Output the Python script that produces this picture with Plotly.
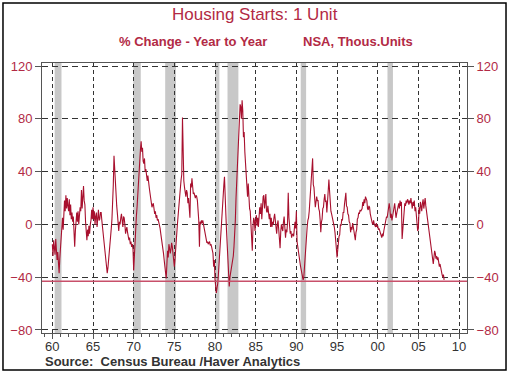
import pandas as pd
import plotly.graph_objects as go

# ---- data: % change year to year, monthly, Jan 1960 .. Mar 2008 ----
yoy_1960s = [
    -15, -24, -12, -19, -23, -11, -17, -27, -21, -30, -37, -26,
    -18, -8, -3, 5, -4, 12, 18, 10, 22, 12, 20, 14,
    10, 19, 7, 15, 4, 9, 2, 6, -8, -17, -5, 2,
    9, 2, 10, 0, 7, 13, 10, 26, 12, 22, 29, 18,
    15, 2, -3, -12, -4, -9, -1, -7, 0, 3, 11, 4,
    13, 4, 10, 0, 6, 9, -2, 5, 11, 3, 4, 9,
    9, 3, -2, -5, -9, -17, -22, -27, -30, -37, -33, -28,
    -20, -15, -8, -3, 4, 13, 30, 52, 40, 28, 20, 14,
    8, 3, -5, 2, 0, 5, 8, 3, -2, 6, 5, 0,
    -7, -4, -2, -6, -9, -12, -10, -15, -13, -17, -15, -19,
]
yoy_1970s = [
    -35, -22, -10, 0, 6, 13, 20, 30, 38, 48, 57, 63,
    55, 58, 48, 46, 50, 40, 42, 36, 33, 37, 30, 28,
    24, 21, 18, 13, 15, 16, 12, 8, 10, 5, 7, 3,
    4, 2, 0, -3, -7, -10, -15, -18, -22, -27, -33, -38,
    -41, -30, -20, -25, -15, -18, -22, -19, -14, -17, -24, -28,
    -32, -26, -21, -12, -4, 3, 11, 18, 24, 28, 34, 38,
    81, 45, 33, 28, 22, 21, 26, 24, 16, 20, 12, 5,
    31, 28, 35, 30, 23, 24, 22, 20, 22, 21, 18, 10,
    3, -17, 2, 0, 3, 1, 3, 0, -3, -7, -9, -12,
    -14, -13, -15, -14, -13, -16, -15, -17, -19, -22, -32, -27,
]
yoy_1980s = [
    -42, -47, -52, -48, -45, -38, -29, -18, -7, 2, 10, 16,
    22, 30, 36, 26, 8, -5, -19, -28, -34, -47, -40, -37,
    -35, -32, -29, -24, -17, -8, 3, 20, 33, 50, 64, 78,
    82, 91, 89, 80, 94, 86, 66, 70, 55, 48, 38, 33,
    21, 31, 18, 12, 10, 0, -10, -20, -2, 5, 3, -5,
    3, 7, -1, 5, -2, 9, 13, 8, 16, 4, 18, 21,
    22, 12, 17, 23, 10, 9, 14, 7, 4, 8, -2, 5,
    -2, 2, 0, 5, 8, 3, -2, -7, 0, 3, -4, -10,
    -18, -5, 0, -3, -5, 2, 6, -2, -10, -4, -6, 2,
    24, 5, 0, -7, -5, -10, -8, -7, -9, -5, 2, -3,
]
yoy_1990s = [
    10, -13, -17, -20, -24, -28, -31, -34, -36, -38, -42, -40,
    -30, -22, -12, -5, -2, 3, 5, 10, 18, 23, 32, 40,
    50, 30, 28, 20, 13, 17, 21, 18, 18, 12, 10, 4,
    -6, 2, 4, 12, 13, 19, 23, 17, 18, 9, 16, 22,
    34, 25, 13, 10, 8, 6, 4, 2, -2, -6, -10, -18,
    -25, -18, -16, -9, -8, 0, -1, 4, 3, 9, 9, 15,
    18, 24, 14, 13, 8, 7, 2, 1, -6, -2, -4, 1,
    -2, -5, -7, -12, -6, -4, 4, 5, 9, 8, 11, 10,
    11, 12, 17, 14, 19, 16, 21, 19, 18, 12, 11, 14,
    13, 8, 5, 3, 1, 0, 3, 0, -1, -2, 1, -2,
]
yoy_2000s = [
    -1, -4, -3, -5, -6, -8, -10, -7, -9, -5, -2, 0,
    3, 6, 5, 10, 13, 16, 12, 5, 8, 3, 6, 10,
    12, 16, 11, 5, 8, 10, 14, 16, 12, 18, 14, 17,
    -11, -2, 8, 12, 16, 14, 18, 16, 19, 18, 15, 18,
    16, 20, 17, 12, 17, 14, 18, 10, 13, 8, 3, -5,
    -3, 13, 8, 17, 14, 10, 16, 19, 12, 18, 20, 14,
    10, 5, 0, -4, -7, -12, -15, -20, -23, -27, -30, -25,
    -20, -22, -26, -24, -27, -25, -29, -32, -30, -34, -36, -38,
    -40, -38, -42,
]
series_start = "1960-01-01"
latest_level = -43

recession_starts = ["1960-04-15", "1969-12-15", "1973-11-15", "1980-01-15",
                    "1981-07-15", "1990-07-15", "2001-03-15"]
recession_ends = ["1961-02-15", "1970-11-15", "1975-03-15", "1980-07-15",
                  "1982-11-15", "1991-03-15", "2001-11-15"]

y_ticks = [-80, -40, 0, 40, 80, 120]

values = yoy_1960s + yoy_1970s + yoy_1980s + yoy_1990s + yoy_2000s
dates = pd.date_range(series_start, periods=len(values), freq="MS")

RED = "#B22A45"
LINE = "#A8102E"
GRID = "#333333"
AXIS = "#555555"
FONT = "Liberation Sans, Arial, sans-serif"

fig = go.Figure()
fig.add_trace(go.Scatter(x=dates, y=values, mode="lines",
                         line=dict(color=LINE, width=1.1), hoverinfo="skip",
                         showlegend=False))
fig.add_trace(go.Scatter(x=[None], y=[None], yaxis="y2", showlegend=False))

for s, e in zip(recession_starts, recession_ends):
    fig.add_shape(type="rect", xref="x", yref="paper", x0=s, x1=e, y0=0, y1=1,
                  fillcolor="#C8C8C8", line_width=0, layer="below")

fig.add_shape(type="line", xref="paper", yref="y", x0=0, x1=1,
              y0=latest_level, y1=latest_level,
              line=dict(color="#C8506A", width=1.5))

# outer frame
fig.add_shape(type="rect", xref="paper", yref="paper",
              x0=-0.0918, x1=1.0918, y0=-0.137, y1=1.2222,
              line=dict(color="#000000", width=1.5))

yr = [-82.3, 122.3]
fig.update_layout(
    width=510, height=373,
    margin=dict(l=42, r=43, t=63, b=40, autoexpand=False),
    paper_bgcolor="white", plot_bgcolor="white",
    font=dict(family=FONT, size=12, color=RED),
    xaxis=dict(
        type="date",
        range=["1958-09-24", "2010-12-24"],
        tick0="1960-01-01", dtick="M60", tickformat="%y",
        ticks="outside", ticklen=5, tickcolor=AXIS,
        ticklabelstandoff=-4,
        showline=True, linecolor=AXIS, linewidth=1, mirror=True,
        showgrid=True, gridcolor=GRID, gridwidth=1, griddash="4px,3px",
        tickfont=dict(size=13, color="#333333"),
        minor=dict(dtick="M12", ticks="outside", ticklen=3, tickcolor=AXIS,
                   showgrid=False),
        zeroline=False,
    ),
    yaxis=dict(
        range=yr, tickvals=y_ticks,
        ticks="outside", ticklen=6, tickcolor=AXIS,
        showline=True, linecolor=AXIS, linewidth=1, mirror=True,
        showgrid=True, gridcolor=GRID, gridwidth=1, griddash="6px,4px",
        zeroline=False,
        tickfont=dict(size=13, color=RED),
    ),
    yaxis2=dict(
        range=yr, tickvals=y_ticks, overlaying="y", side="right",
        ticks="outside", ticklen=6, tickcolor=AXIS,
        showline=False, showgrid=False, zeroline=False,
        tickfont=dict(size=13, color=RED),
    ),
    annotations=[
        dict(text="Housing Starts: 1 Unit", xref="paper", yref="paper",
             x=(255 - 42) / 425, y=(333 - 15) / 270, showarrow=False,
             xanchor="center", yanchor="middle",
             font=dict(size=17, color=RED, family=FONT)),
        dict(text="<b>% Change - Year to Year</b>", xref="paper", yref="paper",
             x=(117 - 42) / 425, y=(333 - 41) / 270, showarrow=False,
             xanchor="left", yanchor="middle",
             font=dict(size=13, color=RED, family=FONT)),
        dict(text="<b>NSA, Thous.Units</b>", xref="paper", yref="paper",
             x=(301 - 42) / 425, y=(333 - 41) / 270, showarrow=False,
             xanchor="left", yanchor="middle",
             font=dict(size=13, color=RED, family=FONT)),
        dict(text="<b>Source:  Census Bureau /Haver Analytics</b>", xref="paper", yref="paper",
             x=(43 - 42) / 425, y=(333 - 361) / 270, showarrow=False,
             xanchor="left", yanchor="middle",
             font=dict(size=13, color="#333333", family=FONT)),
    ],
)

fig.write_html("out.html", config={"displayModeBar": False},
               post_script="document.body.style.margin='0';")
